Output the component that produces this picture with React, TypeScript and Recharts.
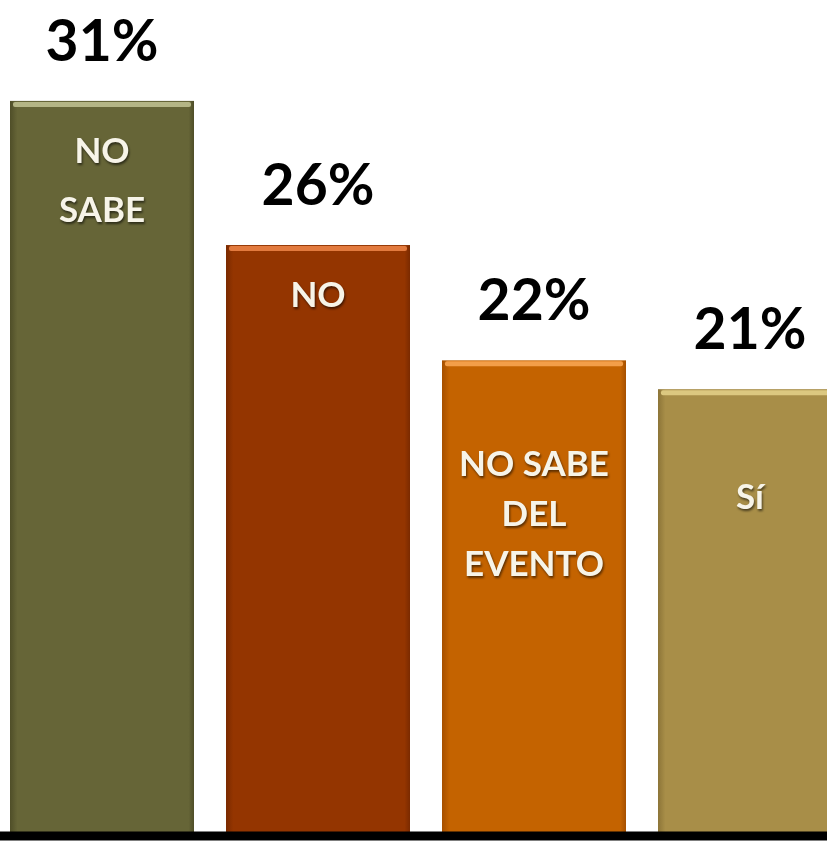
import React from 'react'
import { BarChart, Bar, XAxis, YAxis, LabelList } from 'recharts'

// categories and values as shown on the slide
const categories = ['NO SABE', 'NO', 'NO SABE DEL EVENTO', 'Sí']
const innerLines = [['NO', 'SABE'], ['NO'], ['NO SABE', 'DEL', 'EVENTO'], ['Sí']]
const percents = [31, 26, 22, 21]

// styling
const barColors = ['#666537', '#943500', '#C46300', '#A88E48']
const edgeColors = ['#4F4E28', '#7A2A00', '#A65000', '#8C7538']
const topColors = ['#B4B585', '#E27A3E', '#F39E48', '#DCC880']
const innerTop = [62, 62, 116, 120]
const innerGap = [59, 59, 50, 50]

const data = categories.map((name, i) => ({ name, value: percents[i] }))

const FONT = 'Lato, "Open Sans", sans-serif'

const BarShape = (props: any) => {
  const { x, y, width, height, index } = props
  const id = `barGrad${index}`
  return (
    <g>
      <defs>
        <linearGradient id={id} x1="0" y1="0" x2="1" y2="0">
          <stop offset="0" stopColor={edgeColors[index]} />
          <stop offset="0.04" stopColor={barColors[index]} />
          <stop offset="0.97" stopColor={barColors[index]} />
          <stop offset="1" stopColor={edgeColors[index]} />
        </linearGradient>
      </defs>
      <rect x={x} y={y} width={width} height={height} fill={`url(#${id})`} />
      <rect x={x + 3} y={y + 1} width={width - 6} height={5} rx={2} fill={topColors[index]} />
    </g>
  )
}

const InnerLabel = (props: any) => {
  const { x, y, width, value } = props
  const i = categories.indexOf(value)
  if (i < 0) return null
  const cx = x + width / 2
  return (
    <text
      x={cx}
      y={y + innerTop[i]}
      textAnchor="middle"
      fill="#F7F4E8"
      fontFamily={FONT}
      fontWeight={700}
      fontSize={35}
      style={{ filter: 'drop-shadow(1px 2px 1px rgba(0,0,0,0.55))' }}
    >
      {innerLines[i].map((line, k) => (
        <tspan key={k} x={cx} dy={k === 0 ? 0 : innerGap[i]}>
          {line}
        </tspan>
      ))}
    </text>
  )
}

export default function App() {
  return (
    <div
      style={{
        position: 'fixed',
        left: 0,
        top: 0,
        width: 827,
        height: 841,
        overflow: 'hidden',
        background: '#fff',
      }}
    >
      <BarChart
        width={864}
        height={841}
        data={data}
        margin={{ top: 0, right: 0, left: 0, bottom: 4 }}
        barCategoryGap="14%"
        style={{ position: 'absolute', left: -6, top: 0 }}
      >
        <YAxis hide domain={[5.5, 34.5]} allowDataOverflow />
        <Bar dataKey="value" barSize={184} shape={BarShape} isAnimationActive={false}>
          <LabelList
            dataKey="value"
            position="top"
            offset={40}
            formatter={(v: any) => `${v}%`}
            fill="#000"
            fontFamily={FONT}
            fontWeight={700}
            fontSize={57}
          />
          <LabelList dataKey="name" content={InnerLabel} />
        </Bar>
        <XAxis
          dataKey="name"
          height={1}
          tick={false}
          tickLine={false}
          axisLine={{ stroke: '#000', strokeWidth: 9 }}
        />
      </BarChart>
    </div>
  )
}
